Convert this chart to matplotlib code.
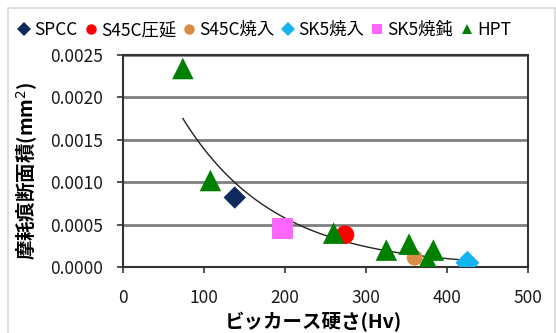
import numpy as np
import matplotlib.pyplot as plt
from matplotlib.patches import Rectangle

plt.rcParams['font.family'] = ['Noto Sans CJK JP', 'DejaVu Sans']

# Vickers hardness (Hv) vs wear scar cross-section area (mm^2)
spcc_hv, spcc_area = [138], [0.00082]
s45c_roll_hv, s45c_roll_area = [274], [0.00038]
s45c_quench_hv, s45c_quench_area = [360], [0.00011]
sk5_quench_hv, sk5_quench_area = [425], [0.00005]
sk5_anneal_hv, sk5_anneal_area = [197], [0.00045]
hpt_hv = [74, 108, 260, 325, 353, 376, 383]
hpt_area = [0.00234, 0.00102, 0.00040, 0.00020, 0.00027, 0.00008, 0.00020]

series = [
    ("SPCC",     spcc_hv,        spcc_area,        'D', '#0E2A5E', 130),
    ("S45C圧延", s45c_roll_hv,   s45c_roll_area,   'o', '#FF0000', 180),
    ("S45C焼入", s45c_quench_hv, s45c_quench_area, 'o', '#D98C45', 130),
    ("SK5焼入",  sk5_quench_hv,  sk5_quench_area,  'D', '#12B5F0', 150),
    ("SK5焼鈍",  sk5_anneal_hv,  sk5_anneal_area,  's', '#FF66FF', 230),
    ("HPT",      hpt_hv,         hpt_area,         '^', '#008000', 240),
]

fig = plt.figure(figsize=(5.56, 3.33), dpi=100)
ax = fig.add_axes([0.221, 0.198, 0.729, 0.637])

# exponential trend line over all points
all_hv = np.concatenate([np.array(s[1], float) for s in series])
all_area = np.concatenate([np.array(s[2], float) for s in series])
b, ln_a = np.polyfit(all_hv, np.log(all_area), 1)
xs = np.linspace(all_hv.min(), all_hv.max(), 200)
ax.plot(xs, np.exp(ln_a) * np.exp(b * xs), color='#222222', lw=1.0, zorder=2)

handles = []
for name, hv, area, mk, col, s in series:
    ax.scatter(hv, area, marker=mk, s=s, color=col, edgecolors='none', zorder=3)
    handles.append(plt.Line2D([], [], marker=mk, ls='none', color=col,
                              markersize=7.5, markeredgewidth=0, label=name))

ax.set_xlim(0, 500)
ax.set_ylim(0, 0.0025)
ax.set_xticks(np.arange(0, 501, 100))
ax.set_yticks(np.arange(0, 0.00251, 0.0005))
ax.yaxis.set_major_formatter(plt.FormatStrFormatter('%.4f'))
ax.grid(axis='y', color='#7f7f7f', lw=2.0)
ax.set_axisbelow(True)
for sp in ax.spines.values():
    sp.set_color('#333333')
    sp.set_linewidth(1.5)
ax.tick_params(axis='both', length=4, width=1.2, color='#333333',
               labelsize=12.5, labelcolor='#1a1a1a')
ax.tick_params(axis='x', pad=12)
ax.tick_params(axis='y', pad=10)

fig.text(0.563, 0.033, "ビッカース硬さ(Hv)", ha='center', va='center',
         fontsize=14, fontweight='bold')
fig.text(0.048, 0.487, "摩耗痕断面積(mm$^2$)", ha='center', va='center',
         rotation=90, fontsize=14, fontweight='bold')

fig.legend(handles=handles, loc='center left', bbox_to_anchor=(0.018, 0.91),
           ncol=6, frameon=False, fontsize=12.5, handlelength=0.8,
           handletextpad=0.2, columnspacing=0.35, borderaxespad=0)

# outer chart frame
fig.add_artist(Rectangle((8 / 556, -0.2), 547 / 556, 1.2 - 8 / 333,
                         transform=fig.transFigure, fill=False,
                         edgecolor='#d9d9d9', lw=1.2))

fig.savefig("out.png", dpi=100)
